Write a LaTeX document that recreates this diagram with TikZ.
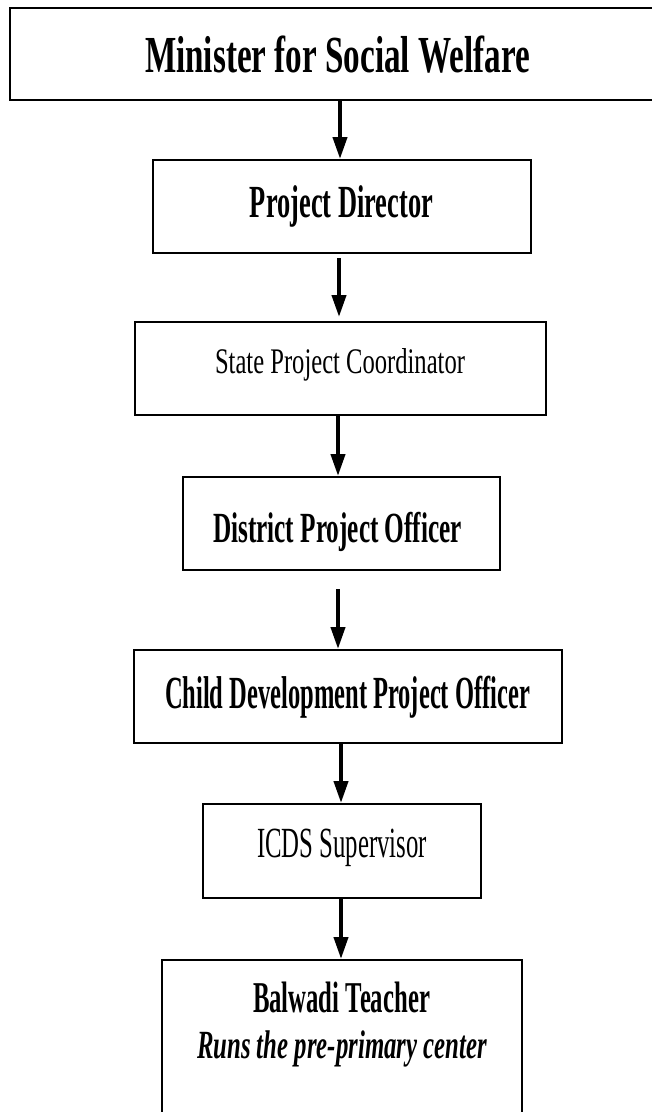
\documentclass[tikz,border=0pt]{standalone}
\usepackage{fontspec}
\setmainfont{Liberation Serif}
\usetikzlibrary{arrows.meta}
\newcommand\fitw[2]{\resizebox{#1}{\height}{#2}}
\begin{document}
\begin{tikzpicture}[x=1pt,y=-1pt,
  box/.style={draw=black, line width=2pt, rectangle, inner sep=0pt, fill=white},
  lbl/.style={anchor=base, inner sep=0pt},
  arr/.style={line width=4pt, -{Triangle[width=14pt,length=22pt]}}]
\useasboundingbox[fill=white] (0,0) rectangle (652,1112);
% boxes
\node[box, minimum width=644pt, minimum height=92pt] (b1) at (332,54) {};
\node[box, minimum width=378pt, minimum height=93pt] (b2) at (342,206.5) {};
\node[box, minimum width=411pt, minimum height=93pt] (b3) at (340.5,368.5) {};
\node[box, minimum width=317pt, minimum height=93pt] (b4) at (341.5,523.5) {};
\node[box, minimum width=428pt, minimum height=93pt] (b5) at (348,696.5) {};
\node[box, minimum width=278pt, minimum height=94pt] (b6) at (342,851) {};
\node[box, minimum width=360pt, minimum height=154pt] (b7) at (342,1037) {};
% texts
\node[lbl] (t1) at (337.5,72) {\fontsize{52}{52}\selectfont\bfseries\fitw{385pt}{Minister for Social Welfare}};
\node[lbl] (t2) at (341.5,217) {\fontsize{46}{46}\selectfont\bfseries\fitw{183pt}{Project Director}};
\node[lbl] (t3) at (340,373) {\fontsize{36}{36}\selectfont\fitw{250pt}{State Project Coordinator}};
\node[lbl] (t4) at (337.5,542) {\fontsize{43}{43}\selectfont\bfseries\fitw{249pt}{District Project Officer}};
\node[lbl] (t5) at (347.5,708) {\fontsize{46}{46}\selectfont\bfseries\fitw{365pt}{Child Development Project Officer}};
\node[lbl] (t6) at (342,857) {\fontsize{43}{43}\selectfont\fitw{170pt}{ICDS Supervisor}};
\node[lbl] (t7) at (341.5,1012) {\fontsize{44}{44}\selectfont\bfseries\fitw{177pt}{Balwadi Teacher}};
\node[lbl] (t8) at (342,1058) {\fontsize{40}{40}\selectfont\bfseries\itshape\fitw{290pt}{Runs the pre-primary center}};
% arrows
\draw[arr] (b1.south -| 340,0) -- (b2.north -| 340,0);
\draw[arr, shorten <=4pt, shorten >=4pt] (b2.south -| 339,0) -- (b3.north -| 339,0);
\draw[arr] (b3.south -| 338,0) -- (b4.north -| 338,0);
\draw[arr, shorten <=18pt] (b4.south -| 338,0) -- (b5.north -| 338,0);
\draw[arr] (b5.south -| 341,0) -- (b6.north -| 341,0);
\draw[arr] (b6.south -| 341,0) -- (b7.north -| 341,0);
\end{tikzpicture}
\end{document}
